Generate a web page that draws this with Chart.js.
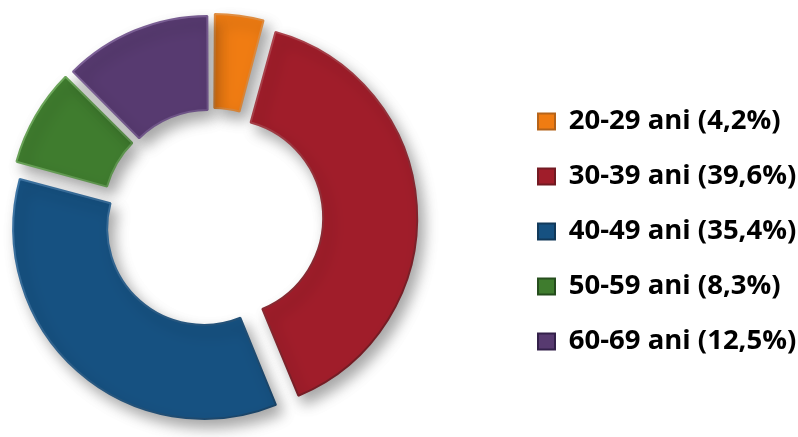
<!DOCTYPE html>
<html>
<head>
<meta charset="utf-8">
<script src="https://cdn.jsdelivr.net/npm/chart.js@4"></script>
<style>
  html, body { margin: 0; padding: 0; background: #fff; }
  #wrap { width: 798px; height: 437px; }
</style>
</head>
<body>
<div id="wrap"><canvas id="ageChart"></canvas></div>
<script>
// age groups and their share (%)
const groups = ['20-29 ani', '30-39 ani', '40-49 ani', '50-59 ani', '60-69 ani'];
const shares = [4.2, 39.6, 35.4, 8.3, 12.5];

const fills = ['#F07C12', '#A01D2A', '#165181', '#3F7C2E', '#573A70'];
const lightEdge = ['#FBA85A', '#D5606A', '#4F8CC0', '#7CBA68', '#8E70A8'];
const darkEdge = ['#A04E05', '#5E0C14', '#0A2F4E', '#22491A', '#33204A'];
// chart.js moves an arc by offset / 4 px (small arcs also grow a bit outward)
const explode = [38, 48, 52, 44, 48];

// label text like "20-29 ani (4,2%)"
const labels = groups.map((g, i) => g + ' (' + String(shares[i]).replace('.', ',') + '%)');

// rim: light on the upper left, dark on the lower right
function rimColor(c) {
  const i = c.dataIndex;
  const area = c.chart.chartArea;
  if (!area) return darkEdge[i];
  const g = c.chart.ctx.createLinearGradient(area.left, area.top, area.right, area.bottom);
  g.addColorStop(0, lightEdge[i]);
  g.addColorStop(1, darkEdge[i]);
  return g;
}

// soft drop shadow under the ring
const ringShadow = {
  id: 'ringShadow',
  beforeDatasetsDraw(chart) {
    const ctx = chart.ctx;
    ctx.save();
    ctx.shadowColor = 'rgba(0,0,0,0.35)';
    ctx.shadowBlur = 14;
    ctx.shadowOffsetX = 6;
    ctx.shadowOffsetY = 8;
  },
  afterDatasetsDraw(chart) {
    chart.ctx.restore();
  }
};

// keep the ring on the left and push the legend to the right side
const legendPlace = {
  id: 'legendPlace',
  beforeInit(chart) {
    const fit = chart.legend.fit;
    chart.legend.fit = function () {
      fit.call(this);
      this.width = 798 - 425;
    };
  },
  afterLayout(chart) {
    const lg = chart.legend;
    const dx = 538 - (lg.left + lg.options.labels.padding);
    lg.left += dx;
    lg.right += dx;
    lg.top += 13;
    lg.bottom += 13;
  }
};

const ctx = document.getElementById('ageChart').getContext('2d');
new Chart(ctx, {
  type: 'doughnut',
  data: {
    labels: labels,
    datasets: [{
      data: shares,
      backgroundColor: fills,
      borderColor: rimColor,
      borderWidth: 2,
      offset: explode
    }]
  },
  options: {
    responsive: true,
    maintainAspectRatio: false,
    animation: false,
    radius: 188,
    cutout: '50%',
    plugins: {
      tooltip: { enabled: false },
      legend: {
        position: 'right',
        labels: {
          boxWidth: 17,
          boxHeight: 16,
          padding: 27.5,
          color: '#000',
          font: { family: 'Open Sans', size: 27.5, weight: 'bold' }
        }
      }
    }
  },
  plugins: [ringShadow, legendPlace]
});
</script>
</body>
</html>
